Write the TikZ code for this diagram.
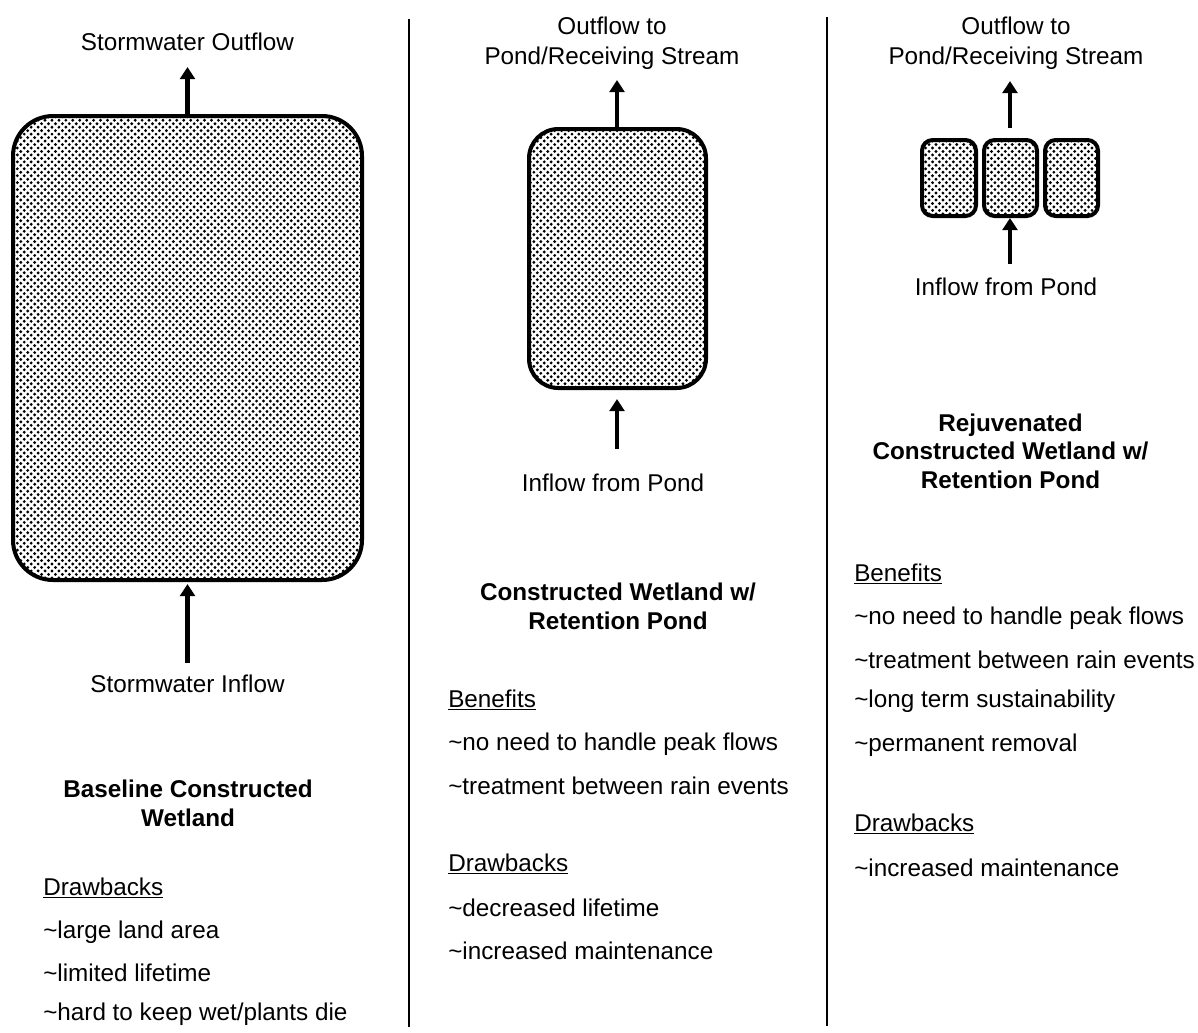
\documentclass[tikz,border=0pt]{standalone}
\usepackage{fontspec}
\setmainfont{Liberation Sans}
\usetikzlibrary{arrows.meta,patterns}
\pgfdeclarepatternformonly{stipple}{\pgfqpoint{-1.5pt}{-1.5pt}}{\pgfqpoint{3.7pt}{3.7pt}}{\pgfqpoint{5.2pt}{5.2pt}}{%
  \pgfpathcircle{\pgfqpoint{0pt}{0pt}}{1.2pt}%
  \pgfpathcircle{\pgfqpoint{2.6pt}{2.6pt}}{1.2pt}%
  \pgfusepath{fill}}
\tikzset{
  wet/.style={draw=black, line width=3pt, pattern=stipple, pattern color=black},
  flow/.style={line width=3.6pt, -{Triangle[width=11pt,length=9pt]}},
  lbl/.style={font=\fontsize{18.2}{22.5}\selectfont, inner sep=0pt, align=center},
  ttl/.style={font=\fontsize{18.2}{21.5}\selectfont\bfseries, inner sep=0pt, align=center},
  item/.style={font=\fontsize{18.2}{22}\selectfont, inner sep=0pt, anchor=west},
  divider/.style={line width=1pt, black}
}
\newcommand{\ul}[1]{\underline{#1}}
\begin{document}
\begin{tikzpicture}[x=0.75pt,y=-0.75pt]
\useasboundingbox (0,0) rectangle (1198,1032);
% dividers
\coordinate (d1t) at (409,19); \coordinate (d1b) at (409,1027);
\coordinate (d2t) at (827,17); \coordinate (d2b) at (827,1026);
\draw[divider] (d1t) -- (d1b);
\draw[divider] (d2t) -- (d2b);

% ---------- left column ----------
\draw[wet, rounded corners=30pt] (13,116) rectangle (362,580);
\node[inner sep=0pt] (bigTop) at (187.5,116) {};
\node[lbl] (outA) at (187.5,42) {Stormwater Outflow};
\node[lbl] (inA) at (187.5,684) {Stormwater Inflow};
\coordinate (oA) at (187.5,67);
\coordinate (iA) at (187.5,663);
\coordinate (iAe) at (187.5,584);
\draw[flow] (bigTop) -- (oA);
\draw[flow] (iA) -- (iAe);
\node[ttl] (ttlA) at (188,803) {Baseline Constructed\\Wetland};
\node[item] (dA) at (43,888) {\ul{Drawbacks}};
\node[item] (dA1) at (43,932) {\char`\~large land area};
\node[item] (dA2) at (43,973) {\char`\~limited lifetime};
\node[item] (dA3) at (43,1014) {\char`\~hard to keep wet/plants die};

% ---------- middle column ----------
\draw[wet, rounded corners=22pt] (529,129) rectangle (706,388);
\node[inner sep=0pt] (midTop) at (617,129) {};
\node[lbl] (outB) at (612,43) {Outflow to\\Pond/Receiving Stream};
\coordinate (oB) at (617,80);
\draw[flow] (midTop) -- (oB);
\coordinate (iB) at (617,449);
\coordinate (iBe) at (617,399);
\draw[flow] (iB) -- (iBe);
\node[lbl] (inB) at (613,483) {Inflow from Pond};
\node[ttl] (ttlB) at (618,606) {Constructed Wetland w/\\Retention Pond};
\node[item] (bB) at (448,700) {\ul{Benefits}};
\node[item] (bB1) at (448,744) {\char`\~no need to handle peak flows};
\node[item] (bB2) at (448,786) {\char`\~treatment between rain events};
\node[item] (dB) at (448,864) {\ul{Drawbacks}};
\node[item] (dB1) at (448,908) {\char`\~decreased lifetime};
\node[item] (dB2) at (448,951) {\char`\~increased maintenance};

% ---------- right column ----------
\draw[wet, rounded corners=8pt] (922,140) rectangle (976,216);
\draw[wet, rounded corners=8pt] (984,140) rectangle (1037,216);
\draw[wet, rounded corners=8pt] (1045,140) rectangle (1098,216);
\node[inner sep=0pt] (smTop) at (1010,129) {};
\node[lbl] (outC) at (1016,43) {Outflow to\\Pond/Receiving Stream};
\coordinate (oC) at (1010,81);
\draw[flow] (smTop) -- (oC);
\coordinate (iC) at (1010,264);
\coordinate (iCe) at (1010,218);
\draw[flow] (iC) -- (iCe);
\node[lbl] (inC) at (1006,287) {Inflow from Pond};
\node[ttl] (ttlC) at (1010.5,451) {Rejuvenated\\Constructed Wetland w/\\Retention Pond};
\node[item] (bC) at (854,574) {\ul{Benefits}};
\node[item] (bC1) at (854,618) {\char`\~no need to handle peak flows};
\node[item] (bC2) at (854,660) {\char`\~treatment between rain events};
\node[item] (bC3) at (854,701) {\char`\~long term sustainability};
\node[item] (bC4) at (854,745) {\char`\~permanent removal};
\node[item] (dC) at (854,824) {\ul{Drawbacks}};
\node[item] (dC1) at (854,868) {\char`\~increased maintenance};
\end{tikzpicture}
\end{document}
